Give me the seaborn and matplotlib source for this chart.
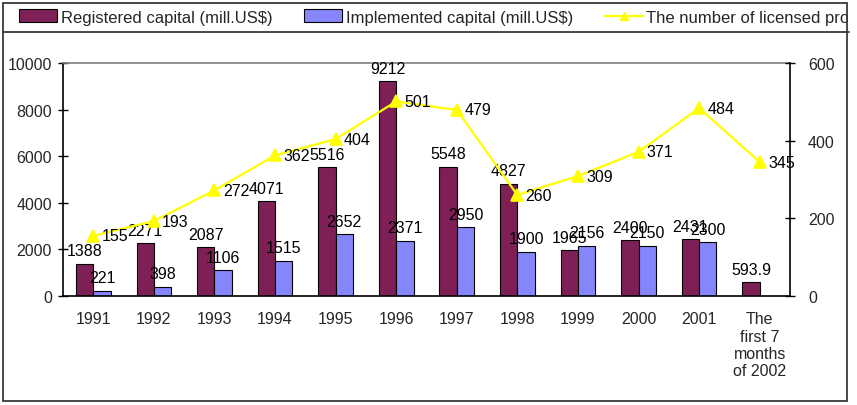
import numpy as np
import pandas as pd
import matplotlib
matplotlib.use("Agg")
import matplotlib.pyplot as plt
import seaborn as sns
from matplotlib.patches import Patch, Rectangle
from matplotlib.lines import Line2D

# ---------------- data ----------------
categories = ["1991", "1992", "1993", "1994", "1995", "1996", "1997", "1998",
              "1999", "2000", "2001", "The\nfirst 7\nmonths\nof 2002"]
registered = [1388, 2271, 2087, 4071, 5516, 9212, 5548, 4827, 1965, 2400, 2431, 593.9]
implemented = [221, 398, 1106, 1515, 2652, 2371, 2950, 1900, 2156, 2150, 2300, np.nan]
projects = [155, 193, 272, 362, 404, 501, 479, 260, 309, 371, 484, 345]
series_names = ["Registered capital (mill.US$)", "Implemented capital (mill.US$)"]
line_name = "The number of licensed projects"
left_ticks = [0, 2000, 4000, 6000, 8000, 10000]
right_ticks = [0, 200, 400, 600]

reg_color = "#7E1F56"
imp_color = "#8585FC"
line_color = "#FFFF00"

# ---------------- style ----------------
sns.set_style("white")
plt.rcParams["font.family"] = ["Liberation Sans", "DejaVu Sans"]
FS = 11.5

df = pd.DataFrame({
    "cat": categories * 2,
    "value": registered + implemented,
    "series": [series_names[0]] * len(categories) + [series_names[1]] * len(categories),
})
df = df.dropna()
df_line = pd.DataFrame({"cat": categories, "projects": projects})

W, H = 857, 406
fig = plt.figure(figsize=(W / 100, H / 100), dpi=100)
ax = fig.add_axes([63 / W, 1 - 297 / H, (790 - 63) / W, (297 - 64) / H])

sns.barplot(data=df, x="cat", y="value", hue="series", order=categories,
            hue_order=series_names, palette=[reg_color, imp_color],
            width=0.5714, edgecolor="black", linewidth=0.8, errorbar=None,
            saturation=1, legend=False, ax=ax)

for cont in ax.containers:
    ax.bar_label(cont, fmt="%g", padding=4, fontsize=FS, color="black")

ax.set_ylim(0, 10000)
ax.set_yticks(left_ticks)
ax.set_xlim(-0.5, len(categories) - 0.5)
ax.set_xlabel("")
ax.set_ylabel("")

ax2 = ax.twinx()
sns.pointplot(data=df_line, x="cat", y="projects", order=categories,
              color=line_color, markers="^", markersize=8, linewidth=1.6,
              errorbar=None, ax=ax2)
for i, v in enumerate(projects):
    ax2.annotate(f"{v:g}", (i, v), xytext=(6, 0), textcoords="offset points",
                 ha="left", va="center", fontsize=FS, color="black")
ax2.set_ylim(0, 600)
ax2.set_yticks(right_ticks)
ax2.set_ylabel("")
ax2.set_xlim(-0.5, len(categories) - 0.5)

# x ticks: labels at centers, tick marks at boundaries
ax.set_xticks(range(len(categories)))
ax.set_xticklabels(categories, fontsize=FS)
ax.set_xticks(np.arange(len(categories) + 1) - 0.5, minor=True)
ax.tick_params(axis="x", which="major", length=0, pad=11, labelsize=FS)
ax.tick_params(axis="x", which="minor", direction="inout", length=7, width=1, color="black")
ax.tick_params(axis="y", direction="inout", length=7, width=1, pad=4.5, labelsize=FS, left=True, color="black")
ax2.tick_params(axis="y", direction="inout", length=7, width=1, pad=9.5, labelsize=FS, right=True, color="black")

for name, sp in ax.spines.items():
    sp.set_visible(True)
ax.spines["top"].set_color("#7f7f7f")
ax.spines["top"].set_linewidth(1.2)
ax.spines["right"].set_visible(False)
ax.spines["left"].set_color("black")
ax.spines["bottom"].set_color("black")
ax.spines["left"].set_linewidth(1.2)
ax.spines["bottom"].set_linewidth(1.2)
for name in ["top", "left", "bottom"]:
    ax2.spines[name].set_visible(False)
ax2.spines["right"].set_visible(True)
ax2.spines["right"].set_color("black")
ax2.spines["right"].set_linewidth(1.2)

# legend
handles = [Patch(facecolor=reg_color, edgecolor="black", linewidth=0.8),
           Patch(facecolor=imp_color, edgecolor="black", linewidth=0.8),
           Line2D([], [], color=line_color, marker="^", markersize=6, linewidth=1.6)]
leg = fig.legend(handles, series_names + [line_name], loc="center left",
                 bbox_to_anchor=(19 / W, 1 - 18 / H), ncol=3, frameon=False,
                 fontsize=12, handlelength=2.3, handleheight=0.8,
                 handletextpad=0.2, columnspacing=1.9, borderaxespad=0,
                 borderpad=0)

# the legend row is cut off by the chart frame on the right
fig.patches.append(Rectangle((848 / W, 1 - 33 / H), 1 - 848 / W, 33 / H,
                             transform=fig.transFigure, facecolor="white",
                             edgecolor="none", zorder=10))
# outer frame and legend separator
fig.patches.append(Rectangle((3 / W, 4 / H), (847 - 3) / W, (402 - 4) / H,
                             transform=fig.transFigure, fill=False,
                             edgecolor="#3a3a3a", linewidth=1.3, zorder=11))
fig.lines.append(Line2D([3 / W, 849 / W], [1 - 33 / H, 1 - 33 / H],
                        transform=fig.transFigure, color="#3a3a3a",
                        linewidth=1.3, zorder=11))

fig.savefig("out.png", dpi=100)
